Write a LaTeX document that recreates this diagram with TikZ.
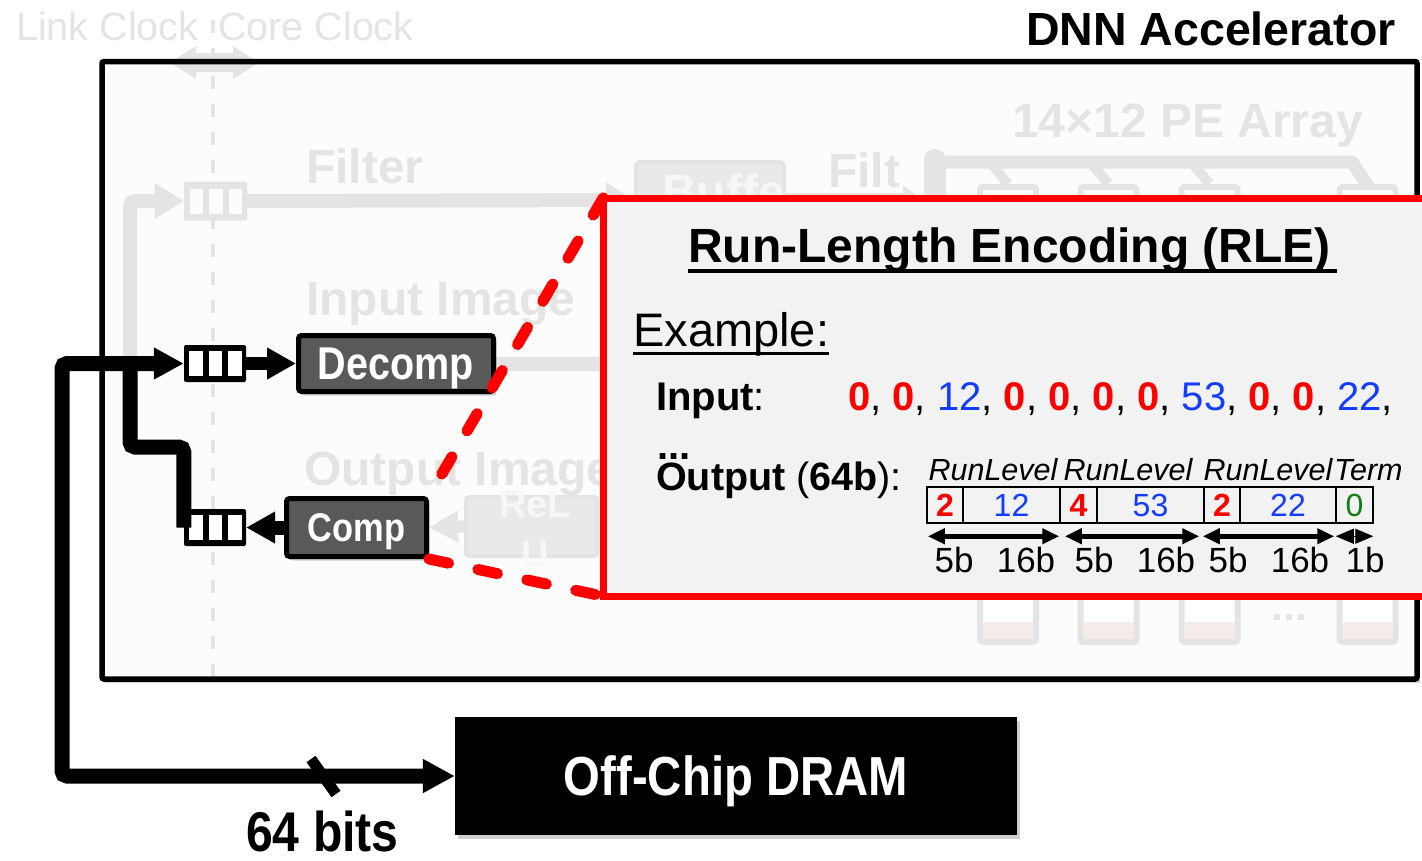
\documentclass[tikz,border=0pt]{standalone}
\usepackage{fontspec}
\setmainfont{Liberation Sans}
\newfontfamily\narrowsf[FakeStretch=0.86]{Liberation Sans}
\usetikzlibrary{arrows.meta,shadows,calc}
\pgfdeclarelayer{back}
\pgfdeclarelayer{mid}
\pgfsetlayers{back,mid,main}

\definecolor{fadegray}{RGB}{228,228,228}
\definecolor{softgray}{RGB}{233,233,233}
\definecolor{ghost}{RGB}{247,247,247}
\definecolor{boxfill}{RGB}{252,252,252}
\definecolor{rlefill}{RGB}{242,242,242}
\definecolor{rlered}{RGB}{255,0,0}
\definecolor{valblue}{RGB}{20,60,255}
\definecolor{termgreen}{RGB}{20,128,20}
\definecolor{unitgray}{RGB}{89,89,89}
\definecolor{pepink}{RGB}{245,235,235}

\newcommand{\fsz}[1]{\fontsize{#1}{#1}\selectfont}
\newcommand{\zr}{\textcolor{rlered}{\bfseries 0}}
\newcommand{\vb}[1]{\textcolor{valblue}{#1}}
% three storage slots of a FIFO node
\newcommand{\fifoslots}[2]{\foreach \dx in {-26,-6.5,13}{\fill[#2] ($(#1.center)+(\dx,-12.5)$) rectangle ++(13.5,25);}}

\tikzset{
  softshadow/.style={drop shadow={shadow xshift=3pt,shadow yshift=-4pt,opacity=0.3,fill=black!60}},
  ghosttxt/.style={text=fadegray, font=\bfseries\fsz{48}, anchor=base west},
  unitbox/.style={draw=black, line width=5, fill=unitgray, rounded corners=3, text=white, text depth=0pt, softshadow},
  fifo/.style={fill=black, rounded corners=2, minimum width=62, minimum height=37},
  ghostfifo/.style={fill=fadegray, rounded corners=2, minimum width=63, minimum height=39},
  bus/.style={line width=15, rounded corners=5},
  graybus/.style={fadegray, line width=14, rounded corners=5},
  cell/.style={draw, line width=2.5, minimum height=36, font=\fsz{32}},
  dimarrow/.style={line width=5, {Triangle[length=17pt,width=15pt]}-{Triangle[length=17pt,width=15pt]}},
  pebox/.style={draw=fadegray, line width=6, rounded corners=3, fill=white, minimum width=56, minimum height=79},
  bitlabel/.style={anchor=base, font=\fsz{35}},
  fieldlabel/.style={anchor=base, font=\itshape\fsz{30.5}},
}

\begin{document}
\begin{tikzpicture}[x=1pt, y=-1pt, inner sep=0pt]
\useasboundingbox (0,0) rectangle (1422,860);

\begin{pgfonlayer}{back}
  \fill[white] (0,0) rectangle (1422,860);
  \fill[boxfill, softshadow] (102,61.5) rectangle (1417,679);
\end{pgfonlayer}

% accelerator outline
\draw[line width=5.5, rounded corners=2] (102,61.5) rectangle (1417,679);
\node[anchor=base east, font=\bfseries\fsz{46.5}] (acctitle) at (1396,45) {DNN Accelerator};

% link-side FIFOs, codec units and DRAM
\node[fifo] (fifoA) at (215,363.5) {}; \fifoslots{fifoA}{white}
\node[fifo] (fifoB) at (215,527.5) {}; \fifoslots{fifoB}{white}
\node[unitbox, minimum width=195, minimum height=56, font=\narrowsf\bfseries\fsz{46}] (decomp) at (396,363.5) {Decomp};
\node[unitbox, minimum width=140, minimum height=58, font=\narrowsf\bfseries\fsz{40}] (comp) at (356.5,527.5) {Comp};
\node[fill=black, minimum width=562, minimum height=118, text=white, text depth=0pt, font=\narrowsf\bfseries\fsz{55}, softshadow] (dram) at (736,776) {Off-Chip DRAM};

\coordinate (busA) at (62,363.5);
\coordinate (busB) at (62,776);
\coordinate (jn) at (130,363.5);
\draw[bus, {Triangle[length=30pt,width=30pt]}-{Triangle[length=32pt,width=32pt]}] (fifoA.west) -- (busA) -- (busB) -- (dram.west);
\draw[bus] (fifoB.west) |- (130,447) -- (jn);
\draw[line width=13, -{Triangle[length=29pt,width=30pt]}] (fifoA.east) -- (decomp.west);
\draw[line width=14, -{Triangle[length=29pt,width=30pt]}] (comp.west) -- (fifoB.east);
\draw[line width=11] (311,759) -- (336,794);
\node[anchor=base, font=\narrowsf\bfseries\fsz{56}] (bits) at (322.5,851) {64 bits};

% faded datapath of the accelerator
\begin{pgfonlayer}{mid}
  \draw[fadegray, line width=4, dash pattern=on 13pt off 15pt] (213,20) -- (213,679);
  \fill[fadegray] (170,62.5) -- (196,46) -- (196,53) -- (233,53) -- (233,46) -- (259,62.5)
        -- (233,79) -- (233,72) -- (196,72) -- (196,79) -- cycle;
  \node[ghosttxt, font=\fsz{39.5}] (linkclk) at (16,40) {Link Clock};
  \node[ghosttxt, font=\fsz{39.5}] (coreclk) at (218,40) {Core Clock};

  \node[ghosttxt] (filtertxt) at (306,183) {Filter};
  \node[ghosttxt] (inimgtxt) at (306,315) {Input Image};
  \node[ghosttxt] (outimgtxt) at (304,485) {Output Image};
  \node[ghosttxt] (petxt) at (1012,137) {14×12 PE Array};
  \node[ghosttxt] (filttxt) at (828,187) {Filt};

  \node[ghostfifo] (gfifo) at (215.5,201) {}; \fifoslots{gfifo}{boxfill}
  \draw[graybus, -{Triangle[length=29pt,width=34pt]}] (jn) |- (gfifo.west);
  \node[draw=fadegray, line width=4, fill=softgray, rounded corners=4, minimum width=148, minimum height=76] (buf) at (710,200) {};
  \node[anchor=base west, text=ghost, font=\bfseries\fsz{48}] (buftxt) at (662,208) {Buffe};
  \draw[graybus, -{Triangle[length=28pt,width=34pt]}] (gfifo.east) -- (buf.west);
  \coordinate (busstem) at (923,200);
  \draw[graybus, -{Triangle[length=20pt,width=28pt]}] (buf.east) -- (busstem);

  \draw[fadegray, line width=22, line cap=round] (935,230) -- (935,160);
  \draw[fadegray, line width=13, line join=round] (935,162) -- (1352,162) -- (1372,192);
  \node[pebox] (pt1) at (1008,226.5) {};
  \node[pebox] (pt2) at (1108.5,226.5) {};
  \node[pebox] (pt3) at (1209.5,226.5) {};
  \node[pebox] (pt4) at (1367.5,226.5) {};
  \draw[fadegray, line width=10] (990,162) -- (pt1.north);
  \draw[fadegray, line width=10] (1090,162) -- (pt2.north);
  \draw[fadegray, line width=10] (1191,162) -- (pt3.north);

  \foreach \n/\px in {pb1/1008, pb2/1108.5, pb3/1209.5, pb4/1367.5}{
    \node[pebox] (\n) at (\px,602.5) {};
    \fill[pepink] ($(\n.south west)+(6,-23)$) rectangle ($(\n.south east)+(-6,-6)$);
  }
  \foreach \px in {1274,1286,1298}{\fill[fadegray] (\px,614) rectangle ++(6,6);}

  \coordinate (inimgbus) at (640,363.5);
  \draw[graybus] (decomp.east) -- (inimgbus);
  \node[draw=fadegray, line width=4, fill=softgray, rounded corners=3, minimum width=131, minimum height=59] (relu) at (531.5,526.5) {};
  \draw[graybus, line width=12, -{Triangle[length=29pt,width=30pt]}] (relu.west) -- (comp.east);
  \node[anchor=base, text=ghost, font=\bfseries\fsz{38}] (relutxt) at (535,517) {ReL};
  \node[anchor=base, text=ghost, font=\bfseries\fsz{38}] (relutxtb) at (535,567) {U};
\end{pgfonlayer}

% zoom-out callout lines
\node[minimum width=838, minimum height=398] (rle) at (1022.5,397) {};
\draw[rlered, line width=11, line cap=round, dash pattern=on 20pt off 30pt] (rle.north west) -- (comp.north east);
\draw[rlered, line width=11, line cap=round, dash pattern=on 20pt off 30pt] (comp.south east) -- (rle.south west);

% RLE callout
\node[draw=rlered, line width=7, fill=rlefill, minimum width=838, minimum height=398, softshadow] (rlebox) at (1022.5,397) {};
\node[anchor=base west, font=\bfseries\fsz{48}] (rletitle) at (688,262) {Run-Length Encoding (RLE)};
\draw[line width=3.5] ([yshift=-9pt]rletitle.base west) -- ([xshift=6pt,yshift=-9pt]rletitle.base east);
\node[anchor=base west, font=\fsz{47}] (example) at (633,346) {Example:};
\draw[line width=3] ([yshift=-7pt]example.base west) -- ([yshift=-7pt]example.base east);
\node[anchor=base west, font=\fsz{40}] (inlabel) at (656,410) {\textbf{Input}:};
\node[anchor=base west, font=\fsz{40}] (invals) at (848,410) {\zr, \zr, \vb{12}, \zr, \zr, \zr, \zr, \vb{53}, \zr, \zr, \vb{22},};
\node[anchor=base west, font=\bfseries\fsz{40}] (elide) at (657,459) {...};
\node[anchor=base west, font=\fsz{39.5}] (outlabel) at (656,490) {\textbf{Output} (\textbf{64b}):};

\node[cell, minimum width=36, text=rlered, font=\bfseries\fsz{32}] (c1) at (945,505) {2};
\node[cell, minimum width=97, text=valblue] (c2) at (1011.5,505) {12};
\node[cell, minimum width=37, text=rlered, font=\bfseries\fsz{32}] (c3) at (1078.5,505) {4};
\node[cell, minimum width=107, text=valblue] (c4) at (1150.5,505) {53};
\node[cell, minimum width=36, text=rlered, font=\bfseries\fsz{32}] (c5) at (1222,505) {2};
\node[cell, minimum width=96, text=valblue] (c6) at (1288,505) {22};
\node[cell, minimum width=37, text=termgreen] (c7) at (1354.5,505) {0};

\node[fieldlabel] (lab1) at (993,480) {RunLevel};
\node[fieldlabel] (lab2) at (1128,480) {RunLevel};
\node[fieldlabel] (lab3) at (1268,480) {RunLevel};
\node[fieldlabel, anchor=base west] (lab4) at (1334,480) {Term};

\draw[dimarrow] ([xshift=2pt,yshift=-12pt]c1.south west) -- ([xshift=-2pt,yshift=-12pt]c2.south east);
\draw[dimarrow] ([xshift=6pt,yshift=-12pt]c3.south west) -- ([xshift=-6pt,yshift=-12pt]c4.south east);
\draw[dimarrow] ([xshift=0pt,yshift=-12pt]c5.south west) -- ([xshift=-3pt,yshift=-12pt]c6.south east);
\draw[line width=1, {Triangle[length=18pt,width=15pt]}-{Triangle[length=18pt,width=15pt]}] ([xshift=1pt,yshift=-12pt]c7.south west) -- ([xshift=-1pt,yshift=-12pt]c7.south east);

\node[bitlabel] (b1) at (954,572) {5b};
\node[bitlabel] (b2) at (1026,572) {16b};
\node[bitlabel] (b3) at (1094,572) {5b};
\node[bitlabel] (b4) at (1166,572) {16b};
\node[bitlabel] (b5) at (1228,572) {5b};
\node[bitlabel] (b6) at (1300,572) {16b};
\node[bitlabel] (b7) at (1365,572) {1b};
\end{tikzpicture}
\end{document}
